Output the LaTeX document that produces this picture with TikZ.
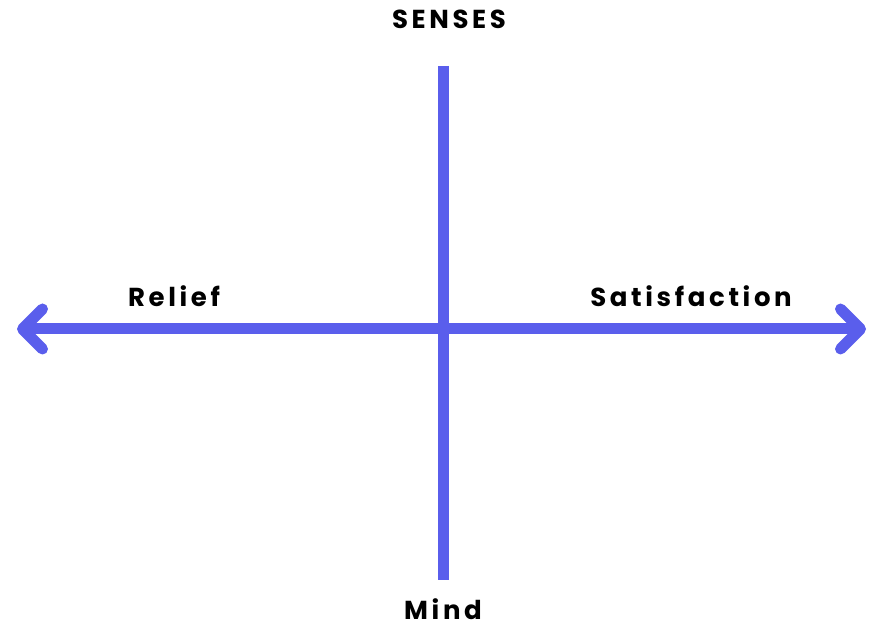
\documentclass[tikz,border=0pt]{standalone}
\usepackage{fontspec}
\setmainfont{Poppins}[UprightFont=* Bold, BoldFont=* Bold, LetterSpace=14]
\usetikzlibrary{arrows.meta}
\definecolor{axisblue}{RGB}{90,94,236}
\tikzset{
  axis/.style={draw=axisblue, line width=11pt},
  lbl/.style={font=\fontsize{26}{29}\selectfont, text=black, anchor=base, inner sep=0pt},
  chev/.style={-{Straight Barb[length=20pt,width=40pt,line cap=round,round]}}
}
\begin{document}
\begin{tikzpicture}[x=1pt,y=1pt]
\useasboundingbox (0,0) rectangle (872,626);
\coordinate (top) at (443,560);
\coordinate (bot) at (443,46);
\coordinate (mid) at (443,297);
\coordinate (lt) at (17,297);
\coordinate (rt) at (866,297);
\draw[axis] (top) -- (bot);
\draw[axis, chev] (mid) -- (lt);
\draw[axis, chev] (mid) -- (rt);
\node[lbl] (senses) at (449,597) {SENSES};
\node[lbl] (relief) at (174,319) {Relief};
\node[lbl] (satis) at (691,319) {Satisfaction};
\node[lbl] (mind) at (443,6) {Mind};
\end{tikzpicture}
\end{document}
